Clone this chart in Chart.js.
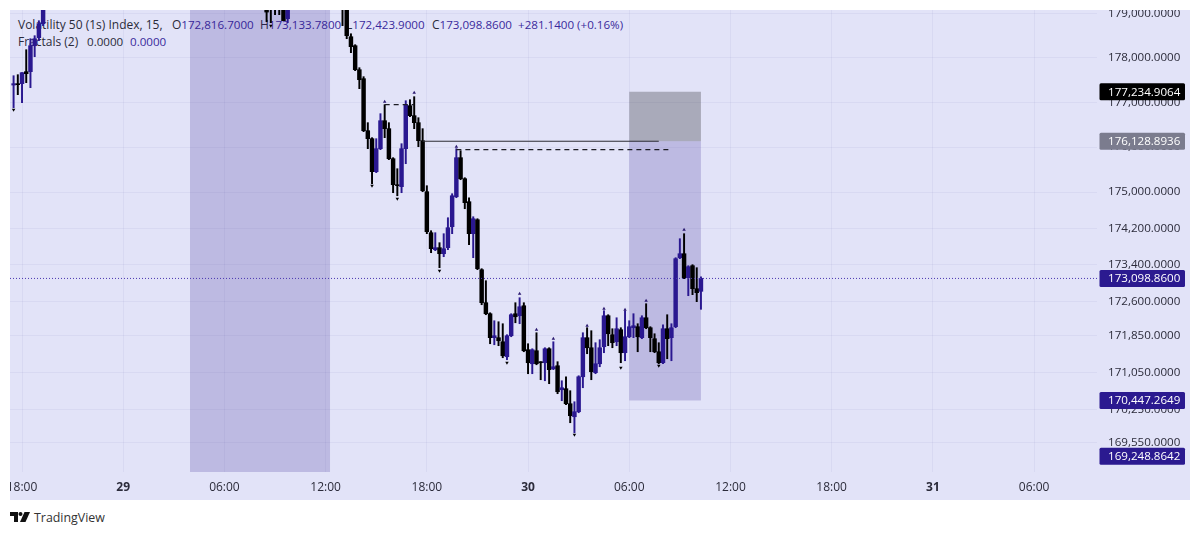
<!DOCTYPE html>
<html>
<head>
<meta charset="utf-8">
<title>Volatility 50 (1s) Index</title>
<script src="https://cdn.jsdelivr.net/npm/chart.js@4"></script>
<style>
  body { margin: 0; background: #fff; font-family: "Open Sans", sans-serif; }
  #panel { position: absolute; left: 10px; top: 10px; width: 1180px; height: 490px; background: #e2e3f8; overflow: hidden; }
  #panel canvas { position: absolute; left: 0; top: 0; z-index: 2; }
  .leg { position: absolute; z-index: 1; font-size: 12px; line-height: 16px; white-space: nowrap; color: #2b2b3a; }
  .val { color: #3a2a9c; font-size: 11.6px; }
  #logo { position: absolute; left: 10px; top: 512px; }
  #brand { position: absolute; left: 34px; top: 509px; font-size: 12.4px; line-height: 18px; color: #333; }
</style>
</head>
<body>
<div id="panel">
  <span class="leg" style="left:8px;top:7px">Volatility 50 (1s) Index, 15,</span>
  <span class="leg" style="left:162px;top:7px">O<span class="val">172,816.7000</span></span>
  <span class="leg" style="left:250px;top:7px">H<span class="val">173,133.7800</span></span>
  <span class="leg" style="left:336px;top:7px">L<span class="val">172,423.9000</span></span>
  <span class="leg" style="left:422px;top:7px">C<span class="val">173,098.8600</span></span>
  <span class="leg val" style="left:508px;top:7px">+281.1400 (+0.16%)</span>
  <span class="leg" style="left:8px;top:24px">Fractals (2)</span>
  <span class="leg" style="left:77px;top:24px;font-size:11.6px">0.0000</span>
  <span class="leg val" style="left:120px;top:24px">0.0000</span>
  <canvas id="chart" width="1180" height="490"></canvas>
</div>
<svg id="logo" width="20" height="11" viewBox="0 0 20 11">
  <path d="M0 0H8V10H4V4H0Z" fill="#111"/>
  <circle cx="10.5" cy="2" r="2" fill="#111"/>
  <path d="M14.5 0H20L15.5 10H10Z" fill="#111"/>
</svg>
<div id="brand">TradingView</div>
<script>
// 15 minute bars counted from the first 18:00 on the axis
const barIndex = [
  -2, -1, 0, 1, 2, 3, 4, 5,
  58, 59, 60, 61, 62, 63,
  76, 77, 78, 79, 80, 81, 82, 83, 84, 85, 86, 87, 88, 89, 90, 91, 92, 93, 94, 95,
  96, 97, 98, 99, 100, 101, 102, 103, 104, 105, 106, 107, 108, 109, 110, 111, 112, 113, 114, 115,
  116, 117, 118, 119, 120, 121, 122, 123, 124, 125, 126, 127, 128, 129, 130, 131, 132, 133, 134, 135,
  136, 137, 138, 139, 140, 141, 142, 143, 144, 145, 146, 147, 148, 149, 150, 151, 152, 153, 154, 155,
  156, 157, 158, 159, 160, 161
];
const openPrices = [
  177385, 177416, 177416, 177685, 177685, 178270, 178451, 178768,
  179100, 179200, 179150, 179150, 179200, 178880,
  179500, 179300, 178473, 178270, 177730, 177528, 176364, 176186, 175452, 175963, 176587, 176409, 175740, 175163, 175119, 175963, 176923, 176699, 176543, 176141,
  175008, 174103, 173729, 173773, 173641, 173773, 174235, 174897, 175763, 175296, 174787, 174081, 174389, 173290, 172568, 172328, 171806, 171806, 171718, 171393,
  171849, 172328, 172284, 172502, 171545, 171241, 171523, 171285, 171263, 171566, 171133, 171198, 170679, 170701, 170377, 170097, 170205, 170959, 171806, 171588,
  171047, 171241, 171610, 172284, 171871, 171718, 171980, 171480, 171827, 172023, 172045, 171806, 172240, 172023, 171784, 171501, 171263, 172001, 171806, 172045,
  173553, 173641, 173115, 173378, 172874, 172816.7
];
const highPrices = [
  177595, 177618, 177663, 178180, 178428, 178496, 178835, 179400,
  179300, 179300, 179300, 179300, 179400, 179300,
  179700, 179500, 178540, 178293, 177775, 177573, 176543, 176208, 176186, 176744, 176945, 176543, 175763, 175518, 176074, 177034, 177057, 177124, 176654, 176409,
  175141, 174147, 174103, 173883, 174081, 174433, 174964, 175963, 175918, 175318, 174875, 174455, 174411, 173312, 173049, 172349, 172175, 172153, 172110, 171871,
  172328, 172568, 172677, 172568, 171675, 171566, 171914, 171285, 171588, 171588, 171718, 171285, 170873, 170959, 170658, 170420, 170981, 171914, 172023, 171958,
  171697, 171762, 172393, 172306, 172001, 172240, 172023, 172393, 172175, 172328, 172110, 172284, 172546, 172045, 171892, 171697, 172088, 172306, 172110, 173553,
  173971, 174081, 173378, 173400, 173334, 173133.78
];
const lowPrices = [
  176878, 177169, 176990, 177438, 177326, 178022, 178383, 178722,
  178813, 178790, 178971, 178971, 178835, 178790,
  178722, 178428, 178113, 177708, 177304, 176342, 175963, 175185, 175430, 175941, 176208, 175718, 174986, 174919, 174986, 175629, 176677, 176409, 176007, 175008,
  174081, 173663, 173707, 173334, 173575, 173729, 174081, 174875, 175274, 174632, 173839, 173553, 173290, 172524, 172306, 171675, 171653, 171632, 171371, 171328,
  171827, 172131, 172110, 171501, 171025, 171025, 171219, 170895, 170873, 170809, 171112, 170593, 170442, 170355, 169968, 169753, 170183, 170722, 171458, 170895,
  171025, 171176, 171480, 171632, 171588, 171632, 171263, 171306, 171806, 171806, 171501, 171784, 172001, 171501, 171480, 171241, 171241, 171349, 171306, 172023,
  173532, 173093, 172721, 172743, 172590, 172423.9
];
const closePrices = [
  177416, 177393, 177663, 177640, 178270, 178428, 178768, 179200,
  179030, 179100, 179100, 179100, 178835, 179150,
  179200, 178496, 178248, 177730, 177505, 176364, 176186, 175452, 175963, 176587, 176409, 175740, 175163, 175141, 175963, 176945, 176699, 176543, 176141, 175030,
  174125, 173751, 173773, 173641, 173751, 174213, 174919, 175763, 175296, 174765, 174081, 174411, 173312, 172568, 172328, 171806, 171849, 171740, 171414, 171849,
  172306, 172262, 172480, 171523, 171263, 171545, 171241, 171263, 171566, 171112, 171176, 170636, 170722, 170377, 170119, 170205, 170959, 171806, 171588, 171068,
  171241, 171588, 172284, 171892, 171697, 172001, 171480, 171827, 172045, 172066, 171827, 172240, 172023, 171806, 171501, 171263, 172001, 171784, 172023, 173532,
  173641, 173115, 173356, 172874, 172787, 173098.86
];

const fractalUpIndex = [86, 93, 103, 118, 122, 126, 134, 138, 143, 148, 157];
const fractalUpPrice = [177012, 177214, 176007, 172765, 171980, 171784, 172066, 172437, 172415, 172612, 174169];
const fractalDownIndex = [-2, 59, 83, 89, 99, 115, 131, 142, 151];
const fractalDownPrice = [176833, 178722, 175141, 174853, 173268, 171263, 169710, 171155, 171198];

const xTickIndex = [0, 24, 48, 72, 96, 120, 144, 168, 192, 216, 240];
const xTickLabels = ['18:00', '29', '06:00', '12:00', '18:00', '30', '06:00', '12:00', '18:00', '31', '06:00'];
const dayTicks = ['29', '30', '31'];
const yTickValues = [179000, 178000, 177000, 176000, 175000, 174200, 173400, 172600, 171850, 171050, 170250, 169550];

const lastPrice = 173098.86;
const boxTop = 177234.9064;
const boxMid = 176128.8936;
const boxBottom = 170447.2649;
const boxStart = 144;
const boxEnd = 161;
const sessionStart = 39.84;
const sessionEnd = 73.04;

const solidLevelX = [95, 151];
const solidLevelY = [176128.89, 176128.89];
const dashLevelX = [103, 154.1];
const dashLevelY = [175941, 175941];
const shortDashX = [86, 93];
const shortDashY = [176945, 176945];

const badgePrices = [177234.9064, 176128.8936, 173098.86, 170447.2649, 169248.8642];
const badgeColors = ['#000000', '#7b7c8e', '#2b1a90', '#2b1a90', '#2b1a90'];

const UP = '#2a1890';
const DOWN = '#000000';
const FONT = '"Open Sans", sans-serif';
const GRID = 'rgba(70, 70, 150, 0.06)';
const xMin = -2.85;
const xMax = 254.92;
const yMin = 168912;
const yMax = 179077;

function money(v) {
  return v.toLocaleString('en-US', { minimumFractionDigits: 4, maximumFractionDigits: 4 });
}

const barColors = barIndex.map((_, i) => closePrices[i] >= openPrices[i] ? UP : DOWN);

// Shaded session band and the long/short position box
const shadingPlugin = {
  id: 'shading',
  beforeDatasetsDraw(chart) {
    const { ctx, chartArea, scales } = chart;
    const fillBox = (x1, x2, top, bottom, color) => {
      const left = scales.x.getPixelForValue(x1);
      const right = scales.x.getPixelForValue(x2);
      const y1 = scales.y.getPixelForValue(top);
      const y2 = scales.y.getPixelForValue(bottom);
      ctx.fillStyle = color;
      ctx.fillRect(left, y1, right - left, y2 - y1);
    };
    ctx.save();
    ctx.beginPath();
    ctx.rect(chartArea.left, chartArea.top, chartArea.width, chartArea.height);
    ctx.clip();
    fillBox(sessionStart, sessionEnd, yMax, yMin, 'rgba(44, 26, 142, 0.2)');
    fillBox(boxStart, boxEnd, boxTop, boxMid, 'rgba(0, 0, 0, 0.25)');
    fillBox(boxStart, boxEnd, boxMid, boxBottom, 'rgba(44, 26, 142, 0.2)');
    ctx.restore();
  }
};

// Price tags on the right axis
const badgePlugin = {
  id: 'badges',
  afterDraw(chart) {
    const { ctx, chartArea, scales } = chart;
    ctx.save();
    ctx.font = '11.6px ' + FONT;
    ctx.textBaseline = 'middle';
    ctx.textAlign = 'left';
    badgePrices.forEach((price, i) => {
      const y = scales.y.getPixelForValue(price);
      ctx.fillStyle = badgeColors[i];
      ctx.beginPath();
      ctx.roundRect(chartArea.right + 2.5, y - 8.5, 85.5, 17, 1.5);
      ctx.fill();
      ctx.fillStyle = '#ffffff';
      ctx.fillText(money(price), chartArea.right + 11, y + 0.5);
    });
    ctx.restore();
  }
};

new Chart(document.getElementById('chart'), {
  type: 'bar',
  data: {
    datasets: [
      {
        type: 'scatter', order: 1, showLine: true, pointRadius: 0, borderWidth: 1, borderColor: '#2a2a33',
        data: solidLevelX.map((x, i) => ({ x: x, y: solidLevelY[i] }))
      },
      {
        type: 'scatter', order: 1, showLine: true, pointRadius: 0, borderWidth: 1.2, borderColor: '#1c1c24', borderDash: [5, 4],
        data: dashLevelX.map((x, i) => ({ x: x, y: dashLevelY[i] }))
      },
      {
        type: 'scatter', order: 1, showLine: true, pointRadius: 0, borderWidth: 1.2, borderColor: '#1c1c24', borderDash: [5, 4],
        data: shortDashX.map((x, i) => ({ x: x, y: shortDashY[i] }))
      },
      {
        type: 'scatter', order: 0, showLine: true, pointRadius: 0, borderWidth: 1, borderColor: '#4a36b0', borderDash: [1, 2],
        data: [{ x: xMin, y: lastPrice }, { x: xMax, y: lastPrice }]
      },
      {
        type: 'scatter', order: 0, pointStyle: 'triangle', pointRadius: 2, pointBackgroundColor: '#2b1a70', pointBorderWidth: 0,
        data: fractalUpIndex.map((x, i) => ({ x: x, y: fractalUpPrice[i] }))
      },
      {
        type: 'scatter', order: 0, pointStyle: 'triangle', pointRotation: 180, pointRadius: 2, pointBackgroundColor: '#000', pointBorderWidth: 0,
        data: fractalDownIndex.map((x, i) => ({ x: x, y: fractalDownPrice[i] }))
      },
      // bodies sit on top of the wicks
      {
        order: 2, grouped: false, barThickness: 3.8, backgroundColor: barColors, borderSkipped: false,
        data: barIndex.map((x, i) => ({ x: x, y: [openPrices[i], closePrices[i]] }))
      },
      {
        order: 3, grouped: false, barThickness: 1.3, backgroundColor: barColors, borderSkipped: false,
        data: barIndex.map((x, i) => ({ x: x, y: [lowPrices[i], highPrices[i]] }))
      }
    ]
  },
  options: {
    responsive: false,
    animation: false,
    events: [],
    plugins: { legend: { display: false }, tooltip: { enabled: false } },
    layout: { padding: 0, autoPadding: false },
    scales: {
      x: {
        type: 'linear',
        min: xMin,
        max: xMax,
        offset: false,
        grid: { offset: false, color: GRID, drawTicks: false },
        border: { display: false },
        afterBuildTicks(scale) {
          scale.ticks = xTickIndex.map(v => ({ value: v }));
        },
        afterFit(scale) {
          scale.height = 28;
          scale.paddingLeft = scale.paddingRight = scale.paddingTop = scale.paddingBottom = 0;
        },
        ticks: {
          autoSkip: false,
          maxRotation: 0,
          padding: 8,
          color: '#2b2b3a',
          callback(value) {
            return xTickLabels[xTickIndex.indexOf(value)];
          },
          font(ctx) {
            const label = xTickLabels[xTickIndex.indexOf(ctx.tick ? ctx.tick.value : -1)];
            return { family: FONT, size: 12, weight: dayTicks.includes(label) ? 'bold' : 'normal' };
          }
        }
      },
      y: {
        type: 'logarithmic',
        position: 'right',
        min: yMin,
        max: yMax,
        grid: { color: GRID, drawTicks: false },
        border: { display: false },
        afterBuildTicks(scale) {
          scale.ticks = yTickValues.map(v => ({ value: v }));
        },
        afterFit(scale) {
          scale.width = 93;
          scale.paddingLeft = scale.paddingRight = scale.paddingTop = scale.paddingBottom = 0;
        },
        ticks: {
          autoSkip: false,
          padding: 11,
          color: '#2b2b3a',
          font: { family: FONT, size: 11.6 },
          callback(value) {
            return money(value);
          }
        }
      }
    }
  },
  plugins: [shadingPlugin, badgePlugin]
});
</script>
</body>
</html>
